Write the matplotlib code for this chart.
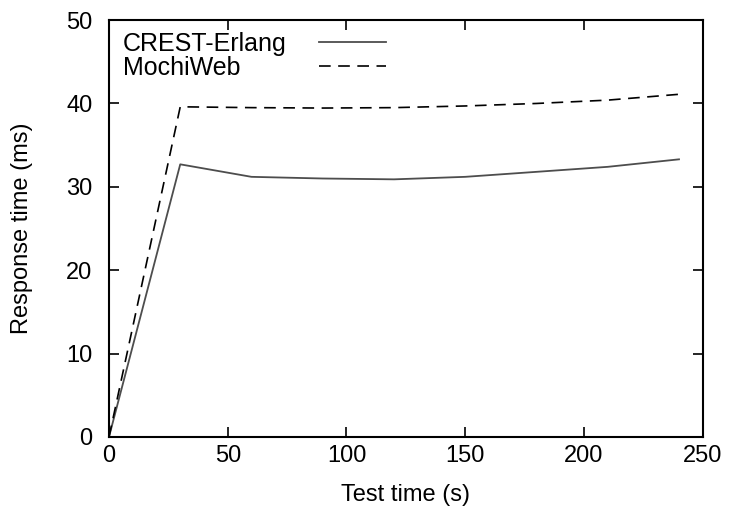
import numpy as np
import matplotlib as mpl
import matplotlib.pyplot as plt

mpl.rc('font', family=['Liberation Sans', 'DejaVu Sans'], size=17)

t_test = [0, 30, 60, 90, 120, 150, 180, 210, 240]
crest = [0, 32.7, 31.2, 31.0, 30.9, 31.2, 31.8, 32.4, 33.3]
mochi = [0, 39.6, 39.5, 39.45, 39.5, 39.7, 40.0, 40.4, 41.1]
labels = ['CREST-Erlang', 'MochiWeb']

fig = plt.figure(figsize=(7.29, 5.15), dpi=100)
ax = fig.add_axes([0.1495, 0.1515, 0.8145, 0.8095])

l1, = ax.plot(t_test, crest, c='0.3', lw=1.3)
l2, = ax.plot(t_test, mochi, c='0.0', lw=1.2, ls=(0, (7, 4.5)))

ax.set_xlim(0, 250)
ax.set_ylim(0, 50)
ax.set_xticks(range(0, 251, 50))
ax.set_yticks(range(0, 51, 10))
ax.tick_params(direction='in', top=True, right=True, length=7, width=1.2)
ax.tick_params(axis='x', pad=6)
ax.tick_params(axis='y', pad=12)
for s in ax.spines.values():
	s.set_linewidth(1.5)

ax.set_xlabel('Test time (s)', labelpad=12)
ax.set_ylabel('Response time (ms)', labelpad=24)

# gnuplot style key: labels left aligned, samples in a column to the right
kw = dict(loc='upper left', frameon=False, borderpad=0, borderaxespad=0,
	labelspacing=0.0, handletextpad=0, fontsize=18)
leg_text = ax.legend([l1, l2], labels, bbox_to_anchor=(0.0236, 0.972),
	handlelength=0, **kw)
ax.add_artist(leg_text)
ax.legend([l1, l2], ['', ''], bbox_to_anchor=(0.3535, 0.972),
	handlelength=2.68, **kw)

plt.savefig('out.png', dpi=100)
